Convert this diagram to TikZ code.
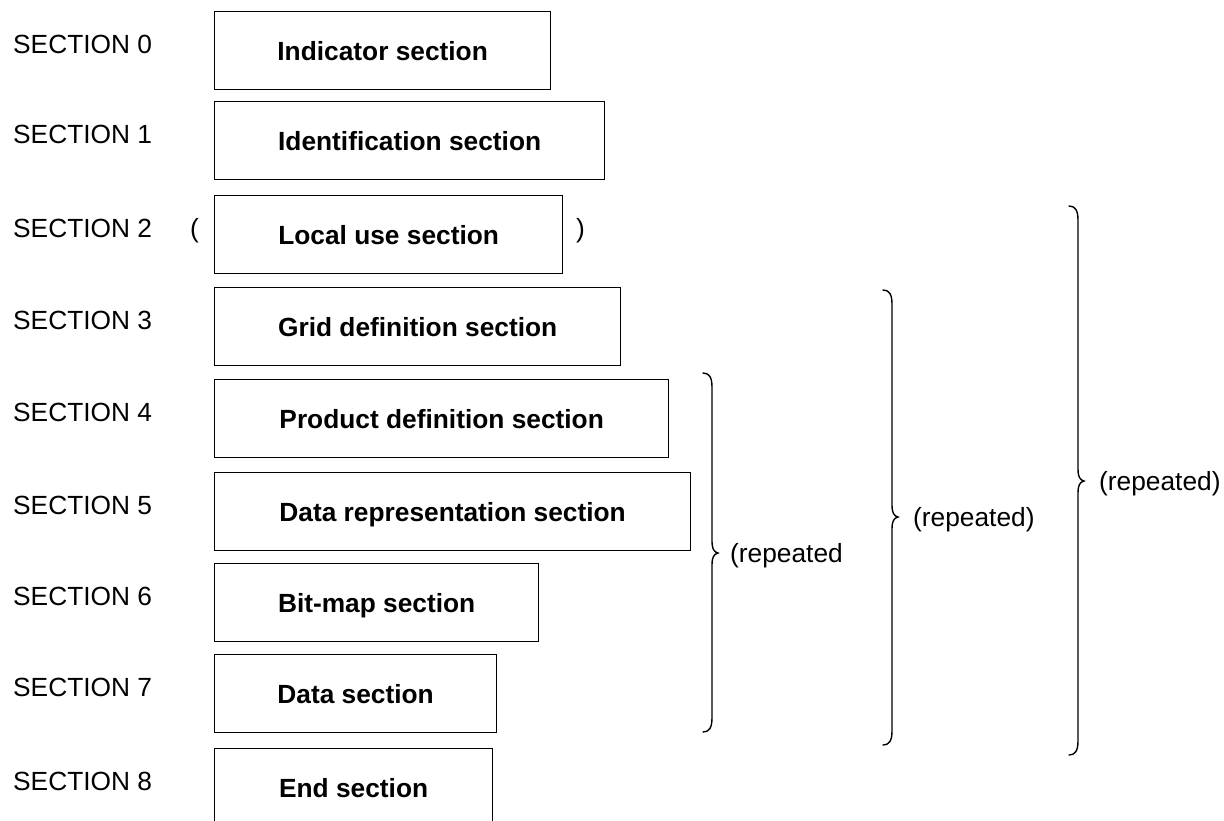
\documentclass[tikz,border=0pt]{standalone}
\usepackage{fontspec}
\setmainfont{Liberation Sans}
\newcommand{\drawRB}[4]{%
  \draw[bracepath] (#1-9,#2) .. controls (#1-3,#2) and (#1,#2+4) .. (#1,#2+14)
    -- (#1,#3-12) .. controls (#1,#3-4) and (#1+2,#3-1) .. (#1+6,#3)
    .. controls (#1+2,#3+1) and (#1,#3+4) .. (#1,#3+12)
    -- (#1,#4-14) .. controls (#1,#4-4) and (#1-3,#4) .. (#1-9,#4);}
\begin{document}
\begin{tikzpicture}[x=1pt,y=-1pt,
  txt/.style={font=\fontsize{26.3}{30}\selectfont, text height=18.8pt, text depth=0pt, inner sep=0pt},
  secbox/.style={draw, line width=1.3pt, anchor=north west, minimum height=78pt,
    inner sep=0pt, font=\fontsize{26.3}{30}\selectfont\bfseries, text height=18.8pt, text depth=0pt},
  seclabel/.style={txt, anchor=west},
  replabel/.style={txt, anchor=west},
  bracepath/.style={line width=1.4pt, line cap=round}]
\clip (0,0) rectangle (1224,820);
\fill[white] (0,0) rectangle (1224,820);
% boxes
\node[secbox, minimum width=336pt] (b0) at (214,11)  {Indicator section};
\node[secbox, minimum width=390pt] (b1) at (214,101) {Identification section};
\node[secbox, minimum width=348pt] (b2) at (214,195) {Local use section};
\node[secbox, minimum width=406pt] (b3) at (214,287) {Grid definition section};
\node[secbox, minimum width=454pt] (b4) at (214,379) {Product definition section};
\node[secbox, minimum width=476pt] (b5) at (214,472) {Data representation section};
\node[secbox, minimum width=324pt] (b6) at (214,563) {Bit-map section};
\node[secbox, minimum width=282pt] (b7) at (214,654) {Data section};
\node[secbox, minimum width=278pt] (b8) at (214,748) {End section};
% labels
\node[seclabel] (s0) at (13,44)  {SECTION 0};
\node[seclabel] (s1) at (13,134) {SECTION 1};
\node[seclabel] (s2) at (13,228) {SECTION 2};
\node[seclabel] (s3) at (13,320) {SECTION 3};
\node[seclabel] (s4) at (13,412) {SECTION 4};
\node[seclabel] (s5) at (13,505) {SECTION 5};
\node[seclabel] (s6) at (13,596) {SECTION 6};
\node[seclabel] (s7) at (13,687) {SECTION 7};
\node[seclabel] (s8) at (13,781) {SECTION 8};
% parentheses
\node[txt, anchor=west] (po) at (190,228) {(};
\node[txt, anchor=west] (pc) at (576,228) {)};
% braces
\drawRB{712}{373}{553}{732}
\drawRB{892}{290}{517}{745}
\drawRB{1078}{206}{481}{755}
\node[replabel] (r1) at (730,553)  {(repeated};
\node[replabel] (r2) at (913,517)  {(repeated)};
\node[replabel] (r3) at (1099,481) {(repeated)};
\end{tikzpicture}
\end{document}
